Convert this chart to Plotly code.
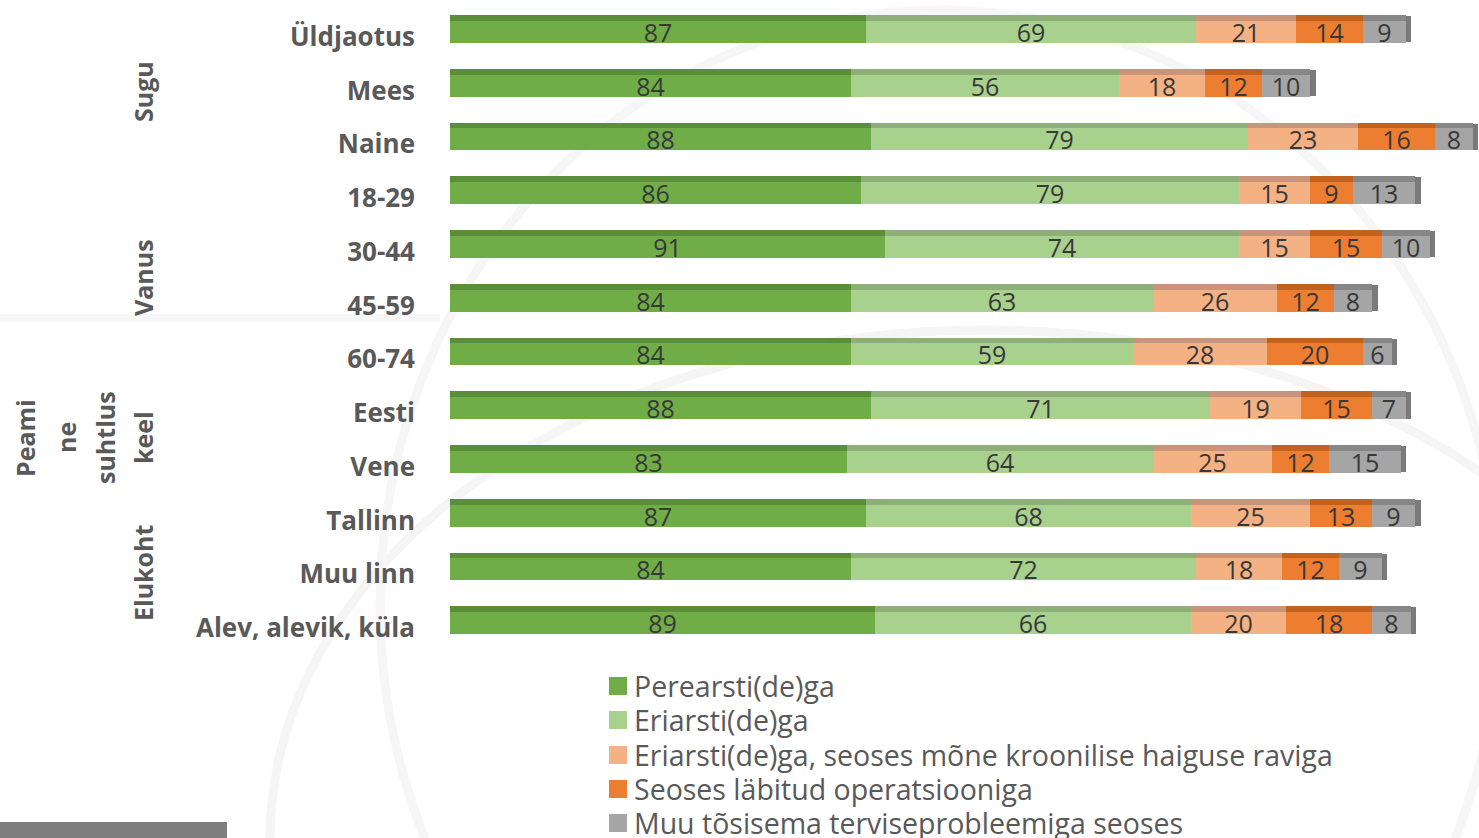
import numpy as np
import plotly.graph_objects as go

categories = ["Üldjaotus", "Mees", "Naine", "18-29", "30-44", "45-59", "60-74",
              "Eesti", "Vene", "Tallinn", "Muu linn", "Alev, alevik, küla"]
perearst = [87, 84, 88, 86, 91, 84, 84, 88, 83, 87, 84, 89]
eriarst = [69, 56, 79, 79, 74, 63, 59, 71, 64, 68, 72, 66]
krooniline = [21, 18, 23, 15, 15, 26, 28, 19, 25, 25, 18, 20]
operatsioon = [14, 12, 16, 9, 15, 12, 20, 15, 12, 13, 12, 18]
muu = [9, 10, 8, 13, 10, 8, 6, 7, 15, 9, 9, 8]

series_names = ["Perearsti(de)ga", "Eriarsti(de)ga",
                "Eriarsti(de)ga, seoses mõne kroonilise haiguse raviga",
                "Seoses läbitud operatsiooniga",
                "Muu tõsisema terviseprobleemiga seoses"]
series_values = [perearst, eriarst, krooniline, operatsioon, muu]
face_colors = ["#70AD47", "#A9D18E", "#F4B183", "#ED7D31", "#A5A5A5"]
top_colors = ["#5B8E39", "#8FAF78", "#C9947A", "#C2621F", "#878787"]

FONT = "Open Sans, Lato, sans-serif"
W, H = 1479, 838
ML, MR, MT, MB = 450, 0, 10, 183
pw, ph = W - ML - MR, H - MT - MB

def px_x(x):
    return (x - ML) / pw

def px_y(y):
    return 1 - (y - MT) / ph

pos = np.arange(len(categories))
STRIP_OFF, STRIP_W = -0.407, 0.111
FACE_OFF, FACE_W = -0.296, 0.407
DEPTH = 1.1

fig = go.Figure()
left = np.zeros(len(categories))
for name, vals, fc, tc in zip(series_names, series_values, face_colors, top_colors):
    v = np.array(vals, dtype=float)
    fig.add_trace(go.Bar(
        y=pos, x=v, base=left, orientation="h", name=name,
        marker=dict(color=fc, line=dict(width=0)),
        offset=FACE_OFF, width=FACE_W,
        text=[str(int(a)) for a in v], textposition="inside",
        insidetextanchor="middle", textangle=0,
        textfont=dict(family=FONT, size=25, color="#383838"),
        hoverinfo="skip", showlegend=False))
    fig.add_trace(go.Bar(
        y=pos, x=v, base=left, orientation="h", name=name + " top",
        marker=dict(color=tc, line=dict(width=0)),
        offset=STRIP_OFF, width=STRIP_W, hoverinfo="skip", showlegend=False))
    left = left + v

fig.add_trace(go.Bar(
    y=pos, x=np.full(len(categories), DEPTH), base=left, orientation="h",
    marker=dict(color="#7A7A7A", line=dict(width=0)),
    offset=STRIP_OFF + 0.02, width=STRIP_W + FACE_W - 0.03,
    hoverinfo="skip", showlegend=False))

gfont = dict(family=FONT, size=25, color="#595959", weight="bold")
groups = [("Sugu", 143, 92), ("Vanus", 143, 278), ("Peami", 25, 438), ("ne", 66, 438),
          ("suhtlus", 105, 438), ("keel", 143, 438), ("Elukoht", 143, 573)]
annotations = [dict(text=t, x=px_x(x), y=px_y(y), xref="paper", yref="paper",
                    textangle=-90, showarrow=False, font=gfont,
                    xanchor="center", yanchor="middle") for t, x, y in groups]

# legend (built as text + swatches)
legend_y = [686, 720, 755, 789, 823]
shapes = []
for name, col, ly in zip(series_names, face_colors, legend_y):
    annotations.append(dict(text=name, x=px_x(633), y=px_y(ly), xref="paper", yref="paper",
                            showarrow=False, xanchor="left", yanchor="middle", borderpad=0,
                            font=dict(family=FONT, size=28.5, color="#595959")))
    shapes.append(dict(type="rect", xref="paper", yref="paper",
                       x0=px_x(609), x1=px_x(627), y0=px_y(ly + 9), y1=px_y(ly - 9),
                       fillcolor=col, line=dict(width=0)))

shapes += [
    dict(type="rect", xref="paper", yref="paper", x0=px_x(0), x1=px_x(227),
         y0=px_y(822), y1=px_y(838), fillcolor="#7F7F7F", line=dict(width=0), layer="above"),
    dict(type="circle", xref="paper", yref="paper", x0=px_x(270), x1=px_x(1700),
         y0=px_y(1350), y1=px_y(330), line=dict(color="#F5F5F5", width=9), layer="below"),
    dict(type="circle", xref="paper", yref="paper", x0=px_x(380), x1=px_x(1500),
         y0=px_y(1200), y1=px_y(10), line=dict(color="#F6F6F6", width=9), layer="below"),
    dict(type="line", xref="paper", yref="paper", x0=px_x(0), x1=px_x(440),
         y0=px_y(318), y1=px_y(318), line=dict(color="#F7F7F7", width=8), layer="below"),
]

fig.update_layout(
    template="none",
    width=W, height=H,
    margin=dict(l=ML, r=MR, t=MT, b=MB, pad=0, autoexpand=False),
    paper_bgcolor="white", plot_bgcolor="rgba(0,0,0,0)",
    barmode="overlay", bargap=0,
    uniformtext=dict(minsize=25, mode="show"),
    xaxis=dict(range=[0, 215.3], visible=False, showgrid=False, zeroline=False, automargin=False),
    yaxis=dict(range=[11.5, -0.5], tickmode="array", tickvals=pos, ticktext=categories,
               showgrid=False, zeroline=False, showline=False, ticks="", automargin=False,
               ticklabelstandoff=34,
               tickfont=dict(family=FONT, size=26, color="#595959", weight="bold")),
    annotations=annotations, shapes=shapes,
    showlegend=False,
)

fig.write_html("out.html", config={"displayModeBar": False},
               post_script="document.body.style.margin='0px';document.body.style.overflow='hidden';")
